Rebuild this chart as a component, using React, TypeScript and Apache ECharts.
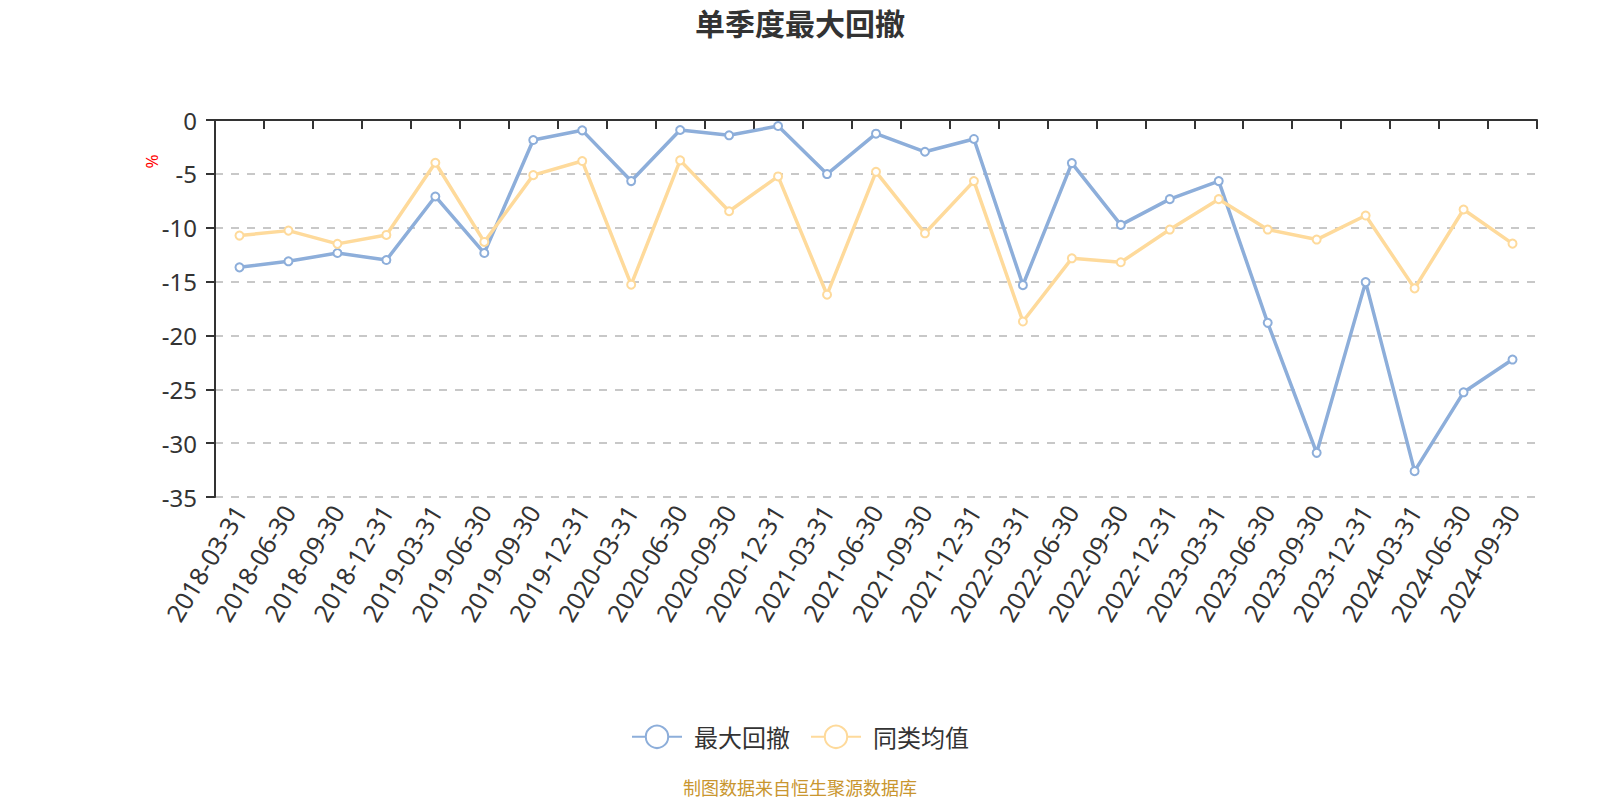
import React, { useEffect, useRef } from "react";
import * as echarts from "echarts";

const categories = [
  "2018-03-31", "2018-06-30", "2018-09-30", "2018-12-31",
  "2019-03-31", "2019-06-30", "2019-09-30", "2019-12-31",
  "2020-03-31", "2020-06-30", "2020-09-30", "2020-12-31",
  "2021-03-31", "2021-06-30", "2021-09-30", "2021-12-31",
  "2022-03-31", "2022-06-30", "2022-09-30", "2022-12-31",
  "2023-03-31", "2023-06-30", "2023-09-30", "2023-12-31",
  "2024-03-31", "2024-06-30", "2024-09-30",
];

const maxDrawdown = [
  -13.68, -13.12, -12.35, -13.0,
  -7.1, -12.35, -1.86, -0.96,
  -5.67, -0.93, -1.42, -0.56,
  -5.02, -1.27, -2.95, -1.76,
  -15.33, -4.0, -9.74, -7.35,
  -5.67, -18.83, -30.9, -15.05,
  -32.6, -25.28, -22.24,
];

const peerAverage = [
  -10.73, -10.27, -11.5, -10.67,
  -3.97, -11.32, -5.12, -3.81,
  -15.29, -3.75, -8.47, -5.24,
  -16.22, -4.81, -10.52, -5.67,
  -18.71, -12.84, -13.21, -10.17,
  -7.35, -10.17, -11.1, -8.87,
  -15.63, -8.31, -11.48,
];

const seriesNames = ["最大回撤", "同类均值"];
const titleText = "单季度最大回撤";
const unitText = "%";
const sourceText = "制图数据来自恒生聚源数据库";

const FONT = "'Noto Sans', 'Noto Sans CJK SC', sans-serif";
const CJK = "'Noto Sans CJK SC', sans-serif";

export default function App() {
  const ref = useRef<HTMLDivElement>(null);
  useEffect(() => {
    if (!ref.current) return;
    const chart = echarts.init(ref.current, null, { renderer: "svg" });
    chart.setOption({
      animation: false,
      textStyle: { fontFamily: FONT },
      title: {
        text: titleText,
        left: "center",
        top: 2,
        textStyle: { fontSize: 30, fontWeight: "bold", color: "#333", fontFamily: CJK },
      },
      grid: { left: 215, right: 63, top: 120, bottom: 303 },
      legend: {
        bottom: 46,
        left: "center",
        itemWidth: 50,
        itemHeight: 28,
        itemGap: 20,
        textStyle: { fontSize: 24, color: "#333", fontFamily: CJK, padding: [0, 0, 0, 7] },
        data: seriesNames,
      },
      graphic: [
        {
          type: "text",
          x: 151,
          y: 161.5,
          rotation: Math.PI / 2,
          style: {
            text: unitText,
            fill: "#ff0000",
            fontSize: 17,
            fontFamily: FONT,
            align: "center",
            verticalAlign: "middle",
          },
        },
        {
          type: "text",
          left: "center",
          top: 778,
          style: { text: sourceText, fill: "#C9962F", fontSize: 18, fontFamily: CJK },
        },
      ],
      xAxis: {
        type: "category",
        data: categories,
        position: "bottom",
        axisLine: { onZero: true, lineStyle: { color: "#333", width: 2 } },
        axisTick: { show: true, length: 9, lineStyle: { color: "#333", width: 2 } },
        axisLabel: { rotate: 59, fontSize: 25, color: "#333", margin: 10, interval: 0 },
      },
      yAxis: {
        type: "value",
        min: -35,
        max: 0,
        interval: 5,
        axisLine: { show: true, lineStyle: { color: "#333", width: 2 } },
        axisTick: { show: true, length: 9, lineStyle: { color: "#333", width: 2 } },
        axisLabel: { fontSize: 24, color: "#333", margin: 18 },
        splitLine: { show: true, lineStyle: { color: "#c8c8c8", type: [8, 8], width: 2 } },
      },
      series: [
        {
          name: seriesNames[0],
          type: "line",
          data: maxDrawdown,
          symbol: "emptyCircle",
          symbolSize: 8,
          lineStyle: { width: 3.5, color: "#8DAEDA" },
          itemStyle: { color: "#8DAEDA", borderWidth: 2 },
        },
        {
          name: seriesNames[1],
          type: "line",
          data: peerAverage,
          symbol: "emptyCircle",
          symbolSize: 8,
          lineStyle: { width: 3.5, color: "#FEDA9B" },
          itemStyle: { color: "#FEDA9B", borderWidth: 2 },
        },
      ],
    });
    return () => chart.dispose();
  }, []);
  return <div ref={ref} style={{ position: "absolute", left: 0, top: 0, width: 1600, height: 800 }} />;
}
